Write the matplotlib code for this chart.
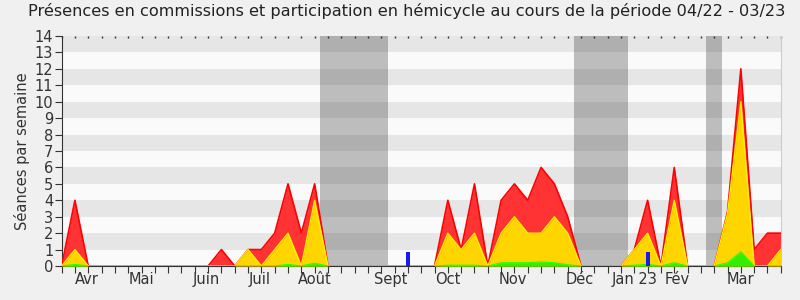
import matplotlib
matplotlib.use('Agg')
import matplotlib.pyplot as plt
import numpy as np

# weekly values, week 0 .. 54
presence = [0, 4, 0, 0, 0, 0, 0, 0, 0, 0, 0, 0, 1, 0, 1, 1, 2, 5, 2, 5,
            0, 0, 0, 0, 0, 0, 0, 0, 0, 4, 1, 5, 0, 4, 5, 4, 6, 5, 3, 0,
            0, 0, 0, 1, 4, 0, 6, 0, 0, 0, 3.3, 12, 1, 2, 2]
participation = [0, 1, 0, 0, 0, 0, 0, 0, 0, 0, 0, 0, 0, 0, 1, 0, 1, 2, 0, 4,
                 0, 0, 0, 0, 0, 0, 0, 0, 0, 2, 1, 2, 0, 2, 3, 2, 2, 3, 2, 0,
                 0, 0, 0, 1, 2, 0, 4, 0, 0, 0, 3.2, 10, 0, 0, 1]
interventions = [0, 0.1, 0, 0, 0, 0, 0, 0, 0, 0, 0, 0, 0, 0, 0, 0, 0, 0.1, 0, 0.17,
                 0, 0, 0, 0, 0, 0, 0, 0, 0, 0.05, 0.05, 0.05, 0, 0.2, 0.2, 0.2, 0.25, 0.2, 0.08, 0,
                 0, 0, 0, 0.05, 0.1, 0, 0.2, 0, 0, 0, 0.2, 0.87, 0, 0, 0]
questions_weeks = [26, 44]
questions = [0.85, 0.85]
vacances = [(19.4, 24.5), (38.45, 42.5), (48.4, 49.6)]
mois = ['Avr', 'Mai', 'Juin', 'Juil', 'Août', 'Sept', 'Oct', 'Nov', 'Déc', 'Jan 23', 'Fév', 'Mar']
mois_pos = [1.9, 6.0, 10.85, 14.9, 19.0, 24.7, 29.0, 33.9, 38.9, 43.0, 46.2, 51.0]

weeks = np.arange(len(presence))

fig = plt.figure(figsize=(8, 3), dpi=100)
fig.patch.set_facecolor('#f0f0f0')
ax = fig.add_axes([0.077, 0.1133, 0.899, 0.7667])
ax.set_facecolor('#fafafa')

# stripes
for y in range(1, 14, 2):
    ax.axhspan(y, y + 1, color='#e6e6e6', lw=0, zorder=0)
# vacations
for a, b in vacances:
    ax.axvspan(a, b, color='#323232', alpha=0.3, lw=0, zorder=1)

ax.fill_between(weeks, presence, color='#ff3333', lw=0, zorder=2)
ax.plot(weeks, presence, color='#ff0000', lw=1.2, zorder=3)
ax.fill_between(weeks, participation, color='#ffd500', lw=0, zorder=4)
ax.plot(weeks, participation, color='#ffee00', lw=1, zorder=5)
ax.fill_between(weeks, interventions, color='#33ee00', lw=0, zorder=6)
ax.plot(weeks, interventions, color='#22ff00', lw=0.8, zorder=7)
ax.bar(questions_weeks, questions, width=0.3, color='#1a1aee', zorder=8)

ax.set_xlim(0, 54)
ax.set_ylim(0, 14)
ax.set_yticks(range(0, 15))
ax.xaxis.remove_overlapping_locs = False
ax.set_xticks(weeks)
ax.set_xticklabels([])
ax.set_xticks(mois_pos, minor=True)
ax.set_xticklabels(mois, minor=True)
ax.tick_params(axis='x', which='minor', length=0, pad=4, labelsize=10.5, labelcolor='#333333')
ax.tick_params(axis='x', which='major', length=5, color='#333333', direction='out')
ax.tick_params(axis='y', length=5, color='#333333', labelsize=10.5, labelcolor='#333333', pad=1)

for s in ['left', 'bottom']:
    ax.spines[s].set_color('#333333')
ax.spines['top'].set_visible(False)
ax.spines['right'].set_color('#cccccc')

top = ax.secondary_xaxis('top')
top.set_xticks(weeks)
top.set_xticklabels([])
top.tick_params(length=1.5, width=1, color='#333333', direction='in')
top.spines['top'].set_visible(False)

ax.set_ylabel('Séances par semaine', fontsize=10.5, color='#333333', labelpad=3)
fig.suptitle('Présences en commissions et participation en hémicycle au cours de la période 04/22 - 03/23',
             fontsize=11.6, color='#222222', x=0.508, y=0.99)

fig.savefig('out.png', dpi=100, facecolor=fig.get_facecolor())
